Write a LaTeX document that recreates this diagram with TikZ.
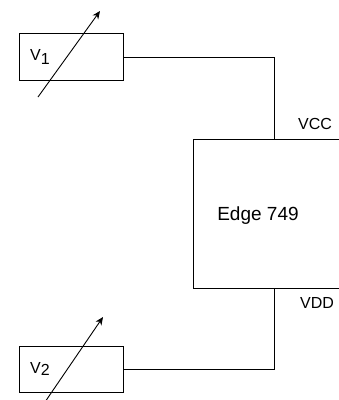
\documentclass[tikz,border=0pt]{standalone}
\usepackage{fontspec}
\setmainfont{Liberation Sans}
\usetikzlibrary{arrows.meta}
\tikzset{
  box/.style={draw, line width=0.9pt, inner sep=0pt, anchor=north west},
  wire/.style={draw, line width=0.9pt},
  varrow/.style={draw, line width=0.9pt, -{Stealth[length=8pt,width=7pt]}},
  lbl/.style={font=\fontsize{16}{16}\selectfont, inner sep=0pt}
}
\begin{document}
\begin{tikzpicture}[x=1pt,y=-1pt]
\useasboundingbox (0,0) rectangle (339,400);
\node[box, minimum width=104pt, minimum height=47pt] (r1) at (19,33) {};
\node[box, minimum width=104pt, minimum height=46pt] (r2) at (19,346) {};
\node[box, minimum width=160pt, minimum height=149pt] (ic) at (193,139) {};
\node[lbl, font=\fontsize{19}{19}\selectfont] (t) at (258,216) {Edge 749};
\node[lbl] (vcc) at (315,124) {VCC};
\node[lbl] (vdd) at (317,303) {VDD};
\node[lbl, anchor=west] (v1) at (30,57) {V\raisebox{-4pt}{1}};
\node[lbl, anchor=west] (v2) at (30,369) {V\raisebox{-2pt}{2}};
\coordinate (a1s) at (38,97);
\coordinate (a1e) at (100,11);
\coordinate (a2s) at (45,402);
\coordinate (a2e) at (103,317);
\coordinate (vccpin) at (274,139);
\coordinate (vddpin) at (274,288);
\draw[varrow] (a1s) -- (a1e);
\draw[varrow] (a2s) -- (a2e);
\draw[wire] (r1.east) -| (vccpin);
\draw[wire] (r2.east) -| (vddpin);
\end{tikzpicture}
\end{document}
